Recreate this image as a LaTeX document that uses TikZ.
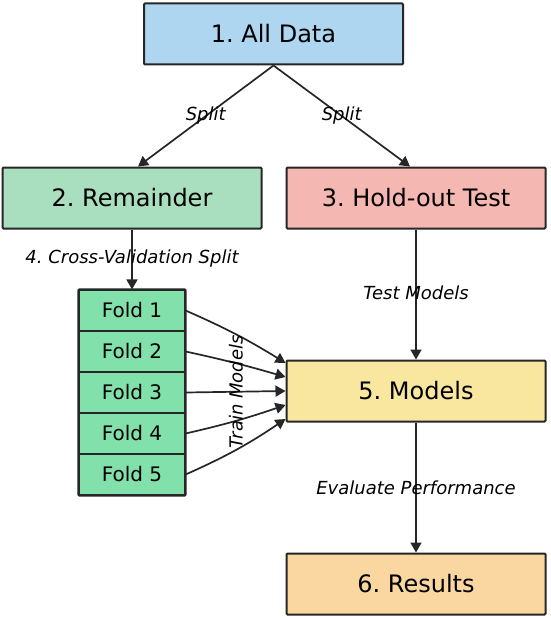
\documentclass[tikz,border=0pt]{standalone}
\usepackage{fontspec}
\setmainfont{DejaVu Sans}
\usetikzlibrary{arrows.meta,calc}
\definecolor{cAll}{HTML}{AED6F1}
\definecolor{cRem}{HTML}{A9DFBF}
\definecolor{cHold}{HTML}{F5B7B1}
\definecolor{cFold}{HTML}{82E0AA}
\definecolor{cMod}{HTML}{F9E79F}
\definecolor{cRes}{HTML}{FAD7A0}
\definecolor{cLine}{HTML}{262626}
\tikzset{
  bigbox/.style={draw=cLine, line width=2pt, rounded corners=1pt, minimum width=259pt, minimum height=61pt, inner sep=0pt, font=\fontsize{24}{28}\selectfont},
  foldbox/.style={draw=cLine, line width=1.2pt, fill=cFold, minimum width=106pt, minimum height=41pt, inner sep=0pt, font=\fontsize{20}{24}\selectfont},
  conn/.style={draw=cLine, line width=1.7pt, -{Triangle[length=10pt,width=11pt]}},
  elabel/.style={font=\fontsize{18}{22}\selectfont\itshape, inner sep=0pt}
}
\begin{document}
\frenchspacing
\begin{tikzpicture}[x=1pt,y=-1pt]
\useasboundingbox (0,0) rectangle (550,618);
\node[bigbox, fill=cAll] (all) at (273.5,34) {1. All Data};
\node[bigbox, fill=cRem] (rem) at (132,198) {2. Remainder};
\node[bigbox, fill=cHold] (hold) at (416,198) {3. Hold-out Test};
\node[bigbox, fill=cMod] (mod) at (416,391) {5. Models};
\node[bigbox, fill=cRes] (res) at (416,584) {6. Results};
\foreach \i in {1,...,5}{
  \node[foldbox] (f\i) at (132,{290+41*(\i-0.5)}) {Fold \i};
}
\draw[draw=cLine, line width=2pt, rounded corners=1pt] (f1.north west) rectangle (f5.south east);
\draw[conn] (all.south) -- node[elabel, pos=0.5] {Split} ([xshift=6pt]rem.north);
\draw[conn] (all.south) -- node[elabel, pos=0.5] {Split} ([xshift=-6pt]hold.north);
\draw[conn] (rem.south) -- node[elabel, pos=0.48] {4. Cross-Validation Split} (f1.north);
\draw[conn] (hold.south) -- node[elabel, pos=0.49] {Test Models} (mod.north);
\draw[conn] (mod.south) -- node[elabel, pos=0.5] {Evaluate Performance} (res.north);
\draw[conn] (f1.east) to[bend left=4] ([yshift=28pt]mod.west);
\draw[conn] (f2.east) to[bend left=2] ([yshift=14pt]mod.west);
\draw[conn] (f3.east) -- ([yshift=0pt]mod.west);
\draw[conn] (f4.east) to[bend right=3] ([yshift=-14pt]mod.west);
\draw[conn] (f5.east) to[bend right=5] ([yshift=-28pt]mod.west);
\node[elabel, rotate=90] (train) at (236,392) {Train Models};
\end{tikzpicture}
\end{document}
